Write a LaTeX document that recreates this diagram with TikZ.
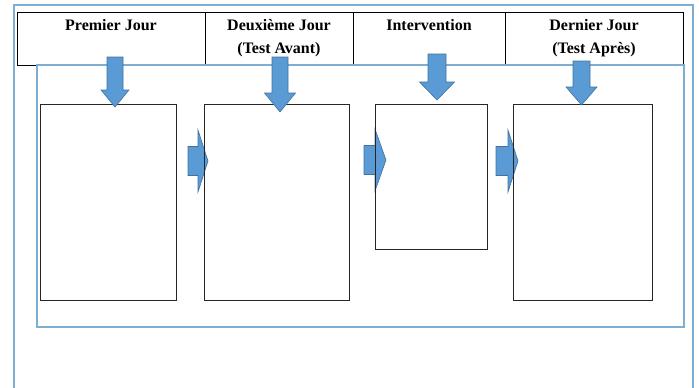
\documentclass[tikz,border=0pt]{standalone}
\usepackage{fontspec}
\setmainfont{Liberation Serif}
\usetikzlibrary{positioning}
\definecolor{frameblue}{RGB}{126,175,210}
\definecolor{arrowfill}{RGB}{91,155,213}
\definecolor{arrowline}{RGB}{65,113,156}

% block arrows: centre, start, head start, tip, shaft half width, head half width
\newcommand{\dnarrow}[6]{%
	\filldraw[blockarrow] (#1-#5,#2) -- (#1+#5,#2) -- (#1+#5,#3) -- (#1+#6,#3)
		-- (#1,#4) -- (#1-#6,#3) -- (#1-#5,#3) -- cycle;}
\newcommand{\rtarrow}[6]{%
	\filldraw[blockarrow] (#2,#1-#5) -- (#3,#1-#5) -- (#3,#1-#6) -- (#4,#1)
		-- (#3,#1+#6) -- (#3,#1+#5) -- (#2,#1+#5) -- cycle;}

\begin{document}
\begin{tikzpicture}[
				x=1pt, y=-1pt,
				cell/.style={draw=black, line width=0.8pt, anchor=north west, inner sep=0pt, outer sep=0pt},
				box/.style={draw=black!85, line width=0.9pt, anchor=north west, inner sep=0pt, outer sep=0pt},
				frame/.style={draw=frameblue, line width=1.4pt},
				title/.style={inner sep=0pt, align=center, font=\fontsize{16}{23}\selectfont\bfseries},
				blockarrow/.style={fill=arrowfill, draw=arrowline, line width=0.6pt, line join=miter},
			]
				\useasboundingbox (0,0) rectangle (699,388);
				\clip (0,0) rectangle (699,388);
				
				\draw[frame] (14,5) rectangle (693,400);
				
				% header
				\node (day1) [cell, minimum width=188pt, minimum height=53pt] at (17,12) {};
				\node (day2) [cell, minimum width=148pt, minimum height=53pt] at (205,12) {};
				\node (inter) [cell, minimum width=152pt, minimum height=53pt] at (353,12) {};
				\node (last) [cell, minimum width=178pt, minimum height=53pt] at (505,12) {};
				\node (t1) [title, below=7pt of day1.north] {Premier Jour};
				\node (t2) [title, below=7pt of day2.north] {Deuxième Jour\\(Test Avant)};
				\node (t3) [title, below=7pt of inter.north] {Intervention};
				\node (t4) [title, below=7pt of last.north] {Dernier Jour\\(Test Après)};
				
				\draw[frame] (37,65) rectangle (684,327);
				
				\rtarrow{161}{188}{198}{208}{14.5}{31}
				\rtarrow{160}{364}{375}{386}{14.5}{31}
				\rtarrow{161}{496}{508}{518}{14.5}{31}
				
				% boxes
				\node (box1) [box, minimum width=136pt, minimum height=196pt] at (40,104) {};
				\node (box2) [box, minimum width=145pt, minimum height=196pt] at (204,104) {};
				\node (box3) [box, minimum width=112pt, minimum height=145pt] at (375,104) {};
				\node (box4) [box, minimum width=139pt, minimum height=196pt] at (513,104) {};
				
				\dnarrow{115}{57}{90}{107}{8}{14}
				\dnarrow{280}{57}{93}{112}{8}{15.5}
				\dnarrow{437}{54}{82}{100}{9}{17.5}
				\dnarrow{581.5}{61}{87}{105}{8.5}{15.5}
			\end{tikzpicture}
\end{document}
